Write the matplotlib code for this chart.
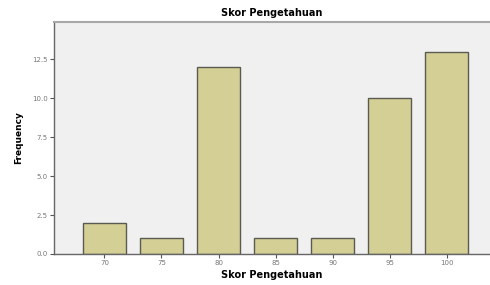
import matplotlib.pyplot as plt
import numpy as np

scores = ["70", "75", "80", "85", "90", "95", "100"]
frequency = [2, 1, 12, 1, 1, 10, 13]
yticks = [0.0, 2.5, 5.0, 7.5, 10.0, 12.5]

fig = plt.figure(figsize=(4.9, 2.85), dpi=100)
ax = fig.add_axes([0.110, 0.109, 0.890, 0.814])
ax.set_facecolor("#f0f0f0")

x = np.arange(len(scores))
ax.bar(x, frequency, width=0.75, color="#d4cf95", edgecolor="#5a5a50", linewidth=1.0)

ax.set_xlim(-0.886, 6.76)
ax.set_ylim(0, 14.9)
ax.set_xticks(x)
ax.set_xticklabels(scores)
ax.set_yticks(yticks)
ax.set_yticklabels([f"{v:.1f}" for v in yticks])
ax.tick_params(axis="both", labelsize=5, colors="#555555", labelcolor="#777777",
               length=3, width=0.8, pad=1.5)

for side in ["left", "bottom"]:
    ax.spines[side].set_color("#666666")
    ax.spines[side].set_linewidth(1.0)
ax.spines["top"].set_color("#a8a8a8")
ax.spines["top"].set_linewidth(1.5)
ax.spines["right"].set_visible(False)

ax.set_title("Skor Pengetahuan", fontsize=7, fontweight="bold", pad=4)
ax.set_xlabel("Skor Pengetahuan", fontsize=7, fontweight="bold", labelpad=3)
ax.set_ylabel("Frequency", fontsize=6.5, fontweight="bold", labelpad=6,
              family="Liberation Sans Narrow")

fig.savefig("out.png", dpi=100)
